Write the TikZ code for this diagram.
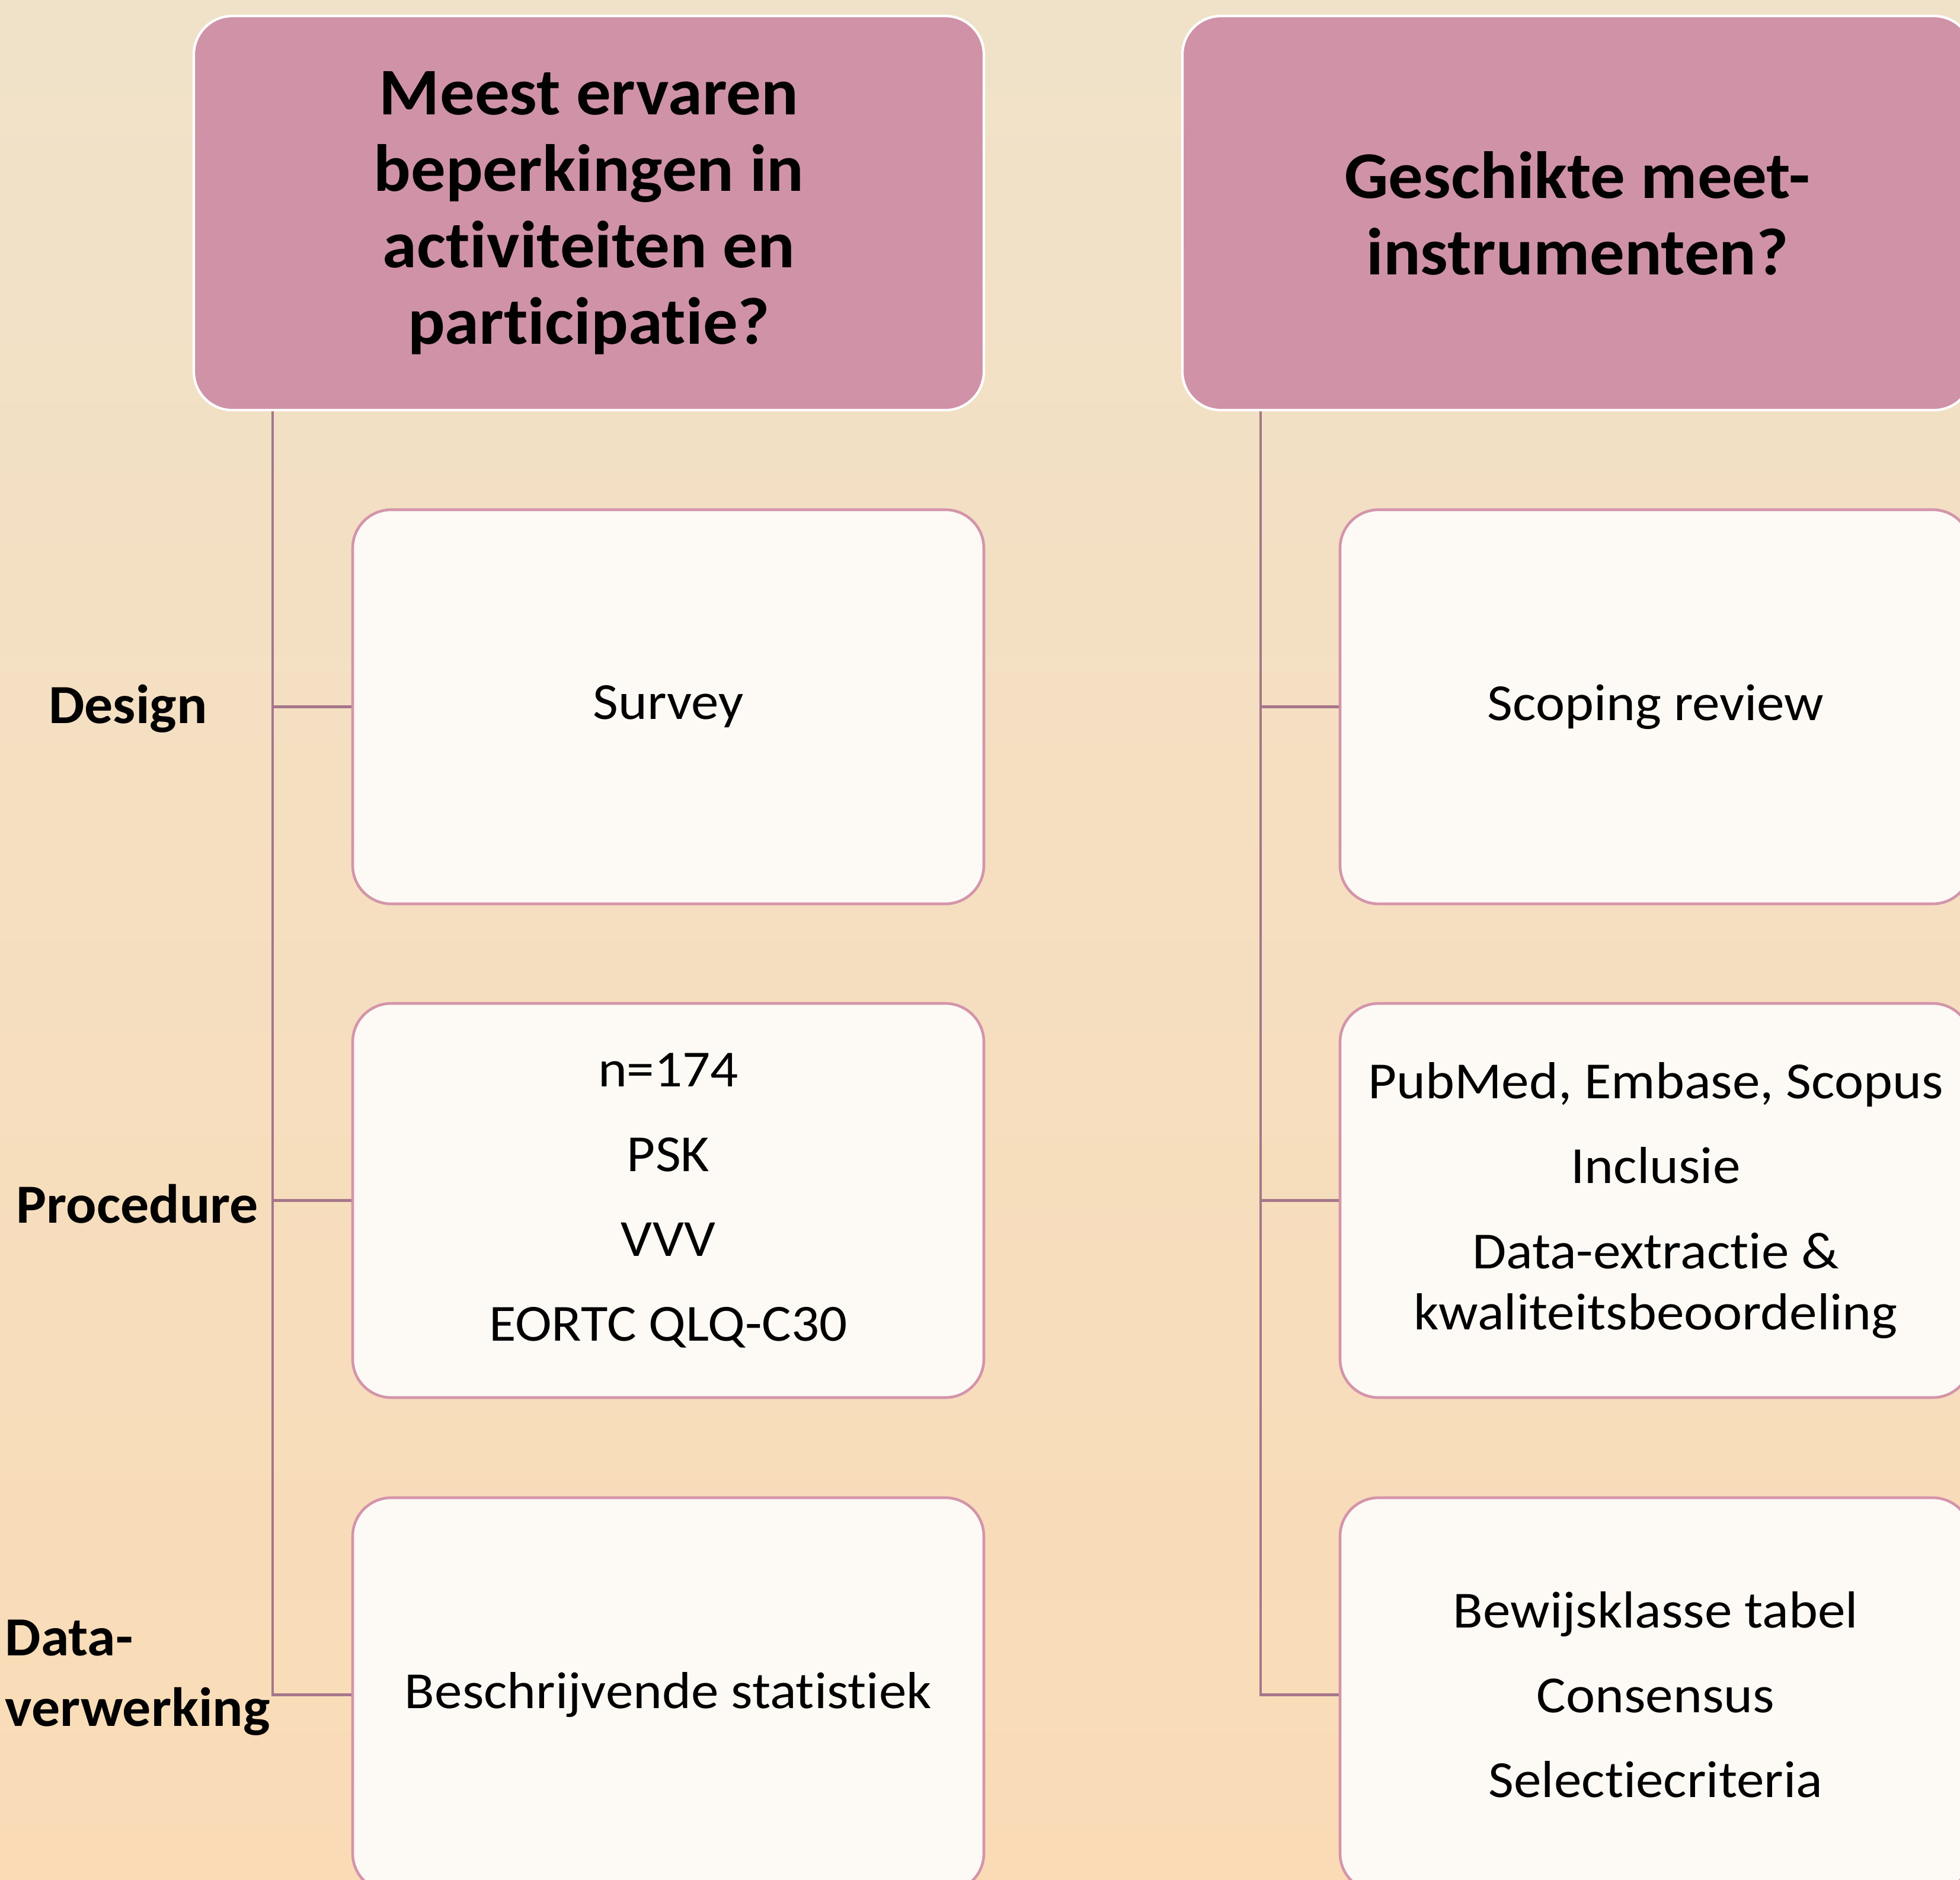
\documentclass[tikz,border=0pt]{standalone}
\usepackage{fontspec}
\setmainfont{Carlito}[Ligatures=NoCommon]
\newfontfamily\bodyfont{Carlito}[Ligatures=NoCommon, FakeStretch=1.06]
\newfontfamily\hdrfont{Carlito}[Ligatures=NoCommon, FakeStretch=1.04]
\newfontfamily\lblfont{Carlito}[Ligatures=NoCommon, FakeStretch=1.03]
\definecolor{bgtop}{RGB}{240,226,201}
\definecolor{bgbot}{RGB}{250,219,182}
\definecolor{hdrfill}{RGB}{208,146,167}
\definecolor{boxfill}{RGB}{253,250,245}
\definecolor{boxline}{RGB}{212,149,171}
\definecolor{connc}{RGB}{166,118,138}
\begin{document}
\begin{tikzpicture}[x=1cm,y=1cm,
  hdr/.style={draw=white, line width=1.2pt, fill=hdrfill, rounded corners=0.65cm,
    minimum width=13.33cm, minimum height=6.65cm, inner sep=0pt, align=center,
    font=\hdrfont\bfseries\fontsize{32}{36.7}\selectfont},
  item/.style={draw=boxline, line width=1.3pt, fill=boxfill, rounded corners=0.65cm,
    minimum width=10.65cm, minimum height=6.65cm, inner sep=0pt, align=center,
    font=\bodyfont\fontsize{25}{29.3}\selectfont},
  lbl/.style={font=\lblfont\bfseries\fontsize{26.5}{33.6}\selectfont, align=left, inner sep=0pt},
  conn/.style={draw=connc, line width=1.4pt}]
\useasboundingbox (0,0) rectangle (33.07,-31.72);
\clip (0,0) rectangle (33.07,-31.72);
\shade[top color=bgtop, bottom color=bgbot] (0,0) rectangle (33.07,-31.72);

% headers
\node[hdr] (hL) at (9.935,-3.595) {Meest ervaren\\beperkingen in\\activiteiten en\\participatie?};
\node[hdr] (hR) at (26.615,-3.595) {Geschikte meet-\\instrumenten?};

% trunk coordinates
\coordinate (tL) at (4.60,0);
\coordinate (tR) at (21.27,0);

% items left
\node[item] (iL1) at (11.275,-11.925) {Survey};
\node[item] (iL2) at (11.275,-20.255) {n=174\\[11.4pt]PSK\\[11.4pt]VVV\\[11.4pt]EORTC QLQ-C30};
\node[item] (iL3) at (11.275,-28.595) {Beschrijvende statistiek};

% items right
\node[item] (iR1) at (27.935,-11.925) {Scoping review};
\node[item] (iR2) at (27.935,-20.255) {PubMed, Embase, Scopus\\[11.4pt]Inclusie\\[11.4pt]Data-extractie \&\\kwaliteitsbeoordeling};
\node[item] (iR3) at (27.935,-28.595) {Bewijsklasse tabel\\[11.4pt]Consensus\\[11.4pt]Selectiecriteria};

% connectors
\draw[conn] (hL.south -| tL) |- (iL3.west);
\draw[conn] (tL |- iL1.west) -- (iL1.west);
\draw[conn] (tL |- iL2.west) -- (iL2.west);
\draw[conn] (hR.south -| tR) |- (iR3.west);
\draw[conn] (tR |- iR1.west) -- (iR1.west);
\draw[conn] (tR |- iR2.west) -- (iR2.west);

% labels
\node[lbl, anchor=base] (lD) at (2.16,-12.20) {Design};
\node[lbl, anchor=base] (lP) at (2.32,-20.63) {Procedure};
\node[lbl, anchor=base west] (lV) at (0.08,-29.12) {Data-\\verwerking};
\end{tikzpicture}
\end{document}
